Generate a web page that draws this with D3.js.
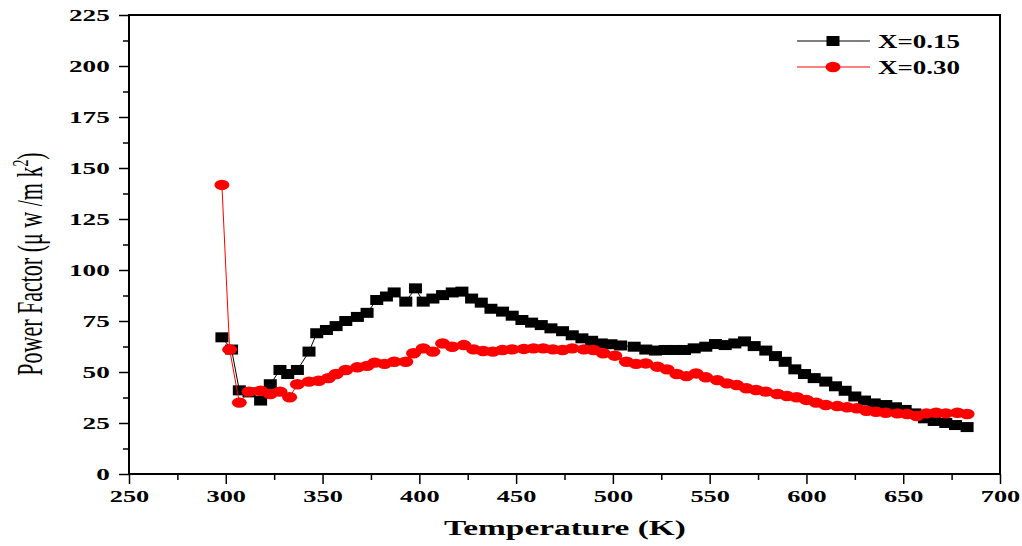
<!DOCTYPE html>
<html>
<head>
<meta charset="utf-8">
<script src="https://cdn.jsdelivr.net/npm/d3@7"></script>
<style>
  body { margin: 0; background: #fff; }
  svg { display: block; }
  text { font-family: "Liberation Serif", "Times New Roman", serif; }
</style>
</head>
<body>
<svg width="1022" height="546"></svg>
<script>
// X=0.15 series
var tempA = [298, 303, 307, 312, 318, 323, 328, 332, 337, 343, 347, 352, 357, 362, 368, 373, 378, 383, 387,
  393, 398, 402, 407, 412, 417, 422, 427, 432, 437, 443, 448, 453, 458, 463, 468, 474, 479, 484, 489, 494,
  499, 504, 511, 517, 522, 527, 532, 537, 542, 548, 553, 558, 563, 568, 573, 579, 584, 589, 594, 599,
  604, 610, 615, 620, 625, 630, 635, 641, 646, 651, 656, 661, 666, 672, 677, 683];
var pfA = [67, 61, 41, 40, 36, 44, 51, 49, 51, 60, 69, 70.6, 72.5, 75, 77, 79, 85.3, 87, 89,
  84.5, 91, 84.5, 86, 87.7, 89, 89.4, 86, 84, 81, 79.6, 77.6, 75.5, 74.2, 73, 71.4, 70, 68, 66.5, 65.3, 64,
  63.6, 63, 62.4, 61, 60.5, 60.8, 60.8, 60.8, 61.6, 62.4, 63.7, 63.2, 64, 65, 62.7, 60.5, 57.8, 55, 51.3, 49,
  47, 45.3, 43, 40.8, 38, 36, 34.6, 33.8, 32.7, 31.4, 29.7, 27.3, 26, 25, 24, 23];

// X=0.30 series
var tempB = [298, 302, 307, 312, 318, 323, 328, 333, 337, 343, 348, 353, 357, 362, 368, 373, 377, 382, 387,
  393, 397, 402, 407, 412, 417, 423, 428, 433, 438, 443, 448, 454, 459, 464, 469, 474, 479, 485, 490, 495,
  501, 507, 512, 517, 523, 528, 533, 538, 543, 548, 554, 559, 564, 569, 574, 579, 585, 590, 595, 600,
  605, 610, 616, 621, 626, 631, 636, 641, 647, 652, 657, 662, 667, 672, 678, 683];
var pfB = [141.7, 61, 35, 40.4, 40.8, 39.2, 40.4, 37.6, 44, 45.3, 45.7, 47, 49, 51, 52.3, 53, 54.6, 54, 55,
  55, 59.2, 61.6, 60, 64, 62.4, 63.2, 61.1, 60.3, 60, 60.8, 61.1, 61.3, 61.6, 61.6, 61.1, 60.8, 61.6, 61.1, 60.8, 59.2,
  58, 55, 54, 54.2, 52.6, 51.3, 49, 48, 49.3, 47.4, 46, 44.4, 43.6, 42, 41.2, 40.4, 39.2, 38.2, 37.6, 36.3,
  35, 33.8, 33.3, 32.7, 32.2, 31, 30.5, 30, 29.7, 29.4, 28.4, 29.7, 30, 29.7, 30, 29.4];

var seriesNames = ["X=0.15", "X=0.30"];
var xTicks = [250, 300, 350, 400, 450, 500, 550, 600, 650, 700];
var yTicks = [0, 25, 50, 75, 100, 125, 150, 175, 200, 225];

var svg = d3.select("svg");
var plotLeft = 129, plotRight = 1000, plotTop = 15, plotBottom = 474;

var x = d3.scaleLinear().domain([250, 700]).range([plotLeft, plotRight]);
var y = d3.scaleLinear().domain([0, 225]).range([plotBottom, plotTop]);

// minor ticks
svg.append("g")
  .attr("transform", "translate(0," + plotBottom + ")")
  .call(d3.axisBottom(x).tickValues(d3.range(275, 700, 50)).tickSize(6).tickFormat(""))
  .call(function(g) { g.select(".domain").remove(); })
  .selectAll("line").attr("stroke-width", 1.5);
svg.append("g")
  .attr("transform", "translate(" + plotLeft + ",0)")
  .call(d3.axisLeft(y).tickValues(d3.range(12.5, 225, 25)).tickSize(6).tickFormat(""))
  .call(function(g) { g.select(".domain").remove(); })
  .selectAll("line").attr("stroke-width", 1.5);

// major ticks + labels
var xAxis = svg.append("g")
  .attr("transform", "translate(0," + plotBottom + ")")
  .call(d3.axisBottom(x).tickValues(xTicks).tickSize(10).tickPadding(6));
xAxis.select(".domain").remove();
xAxis.selectAll("line").attr("stroke-width", 1.5);
xAxis.selectAll("text")
  .attr("font-size", 17).attr("font-weight", "bold")
  .attr("font-family", "Liberation Serif")
  .attr("transform", "scale(1.55,1)");

var yAxis = svg.append("g")
  .attr("transform", "translate(" + plotLeft + ",0)")
  .call(d3.axisLeft(y).tickValues(yTicks).tickSize(10).tickPadding(2));
yAxis.select(".domain").remove();
yAxis.selectAll("line").attr("stroke-width", 1.5);
yAxis.selectAll("text")
  .attr("font-size", 17).attr("font-weight", "bold")
  .attr("font-family", "Liberation Serif")
  .attr("transform", "scale(1.6,1)");

// frame
svg.append("rect")
  .attr("x", plotLeft).attr("y", plotTop)
  .attr("width", plotRight - plotLeft).attr("height", plotBottom - plotTop)
  .attr("fill", "none").attr("stroke", "#000").attr("stroke-width", 2);

// series
var line = d3.line().x(function(d) { return x(d[0]); }).y(function(d) { return y(d[1]); });
var dataA = d3.zip(tempA, pfA), dataB = d3.zip(tempB, pfB);

svg.append("path").datum(dataA).attr("d", line)
  .attr("fill", "none").attr("stroke", "#000").attr("stroke-width", 1);
svg.append("g").selectAll("rect").data(dataA).enter().append("rect")
  .attr("x", function(d) { return x(d[0]) - 6.5; })
  .attr("y", function(d) { return y(d[1]) - 5; })
  .attr("width", 13).attr("height", 10).attr("fill", "#000");

svg.append("path").datum(dataB).attr("d", line)
  .attr("fill", "none").attr("stroke", "#ff0000").attr("stroke-width", 1);
svg.append("g").selectAll("ellipse").data(dataB).enter().append("ellipse")
  .attr("cx", function(d) { return x(d[0]); })
  .attr("cy", function(d) { return y(d[1]); })
  .attr("rx", 7.5).attr("ry", 5.2).attr("fill", "#ff0000");

// legend
var legend = svg.append("g");
var legRows = [{name: seriesNames[0], color: "#000", cy: 41}, {name: seriesNames[1], color: "#ff0000", cy: 67}];
legRows.forEach(function(r, i) {
  legend.append("line").attr("x1", 797).attr("x2", 870).attr("y1", r.cy).attr("y2", r.cy)
    .attr("stroke", r.color).attr("stroke-width", 1);
  if (i == 0) {
    legend.append("rect").attr("x", 826.5).attr("y", r.cy - 5).attr("width", 13).attr("height", 10).attr("fill", r.color);
  } else {
    legend.append("ellipse").attr("cx", 833).attr("cy", r.cy).attr("rx", 7.5).attr("ry", 5.2).attr("fill", r.color);
  }
  legend.append("text")
    .attr("transform", "translate(878," + (r.cy + 6.5) + ") scale(1.5,1)")
    .attr("font-size", 18).attr("font-weight", "bold")
    .text(r.name);
});

// axis titles
svg.append("text")
  .attr("transform", "translate(565,535) scale(1.59,1)")
  .attr("text-anchor", "middle")
  .attr("font-size", 21).attr("font-weight", "bold")
  .text("Temperature (K)");

var yt = svg.append("text")
  .attr("transform", "translate(42,264) rotate(-90) scale(1,1.6)")
  .attr("text-anchor", "middle")
  .attr("font-size", 22);
yt.append("tspan").text("Power Factor (\u03bc w /m k");
yt.append("tspan").attr("font-size", 14).attr("dy", -9).text("2");
yt.append("tspan").attr("dy", 9).text(")");
</script>
</body>
</html>
